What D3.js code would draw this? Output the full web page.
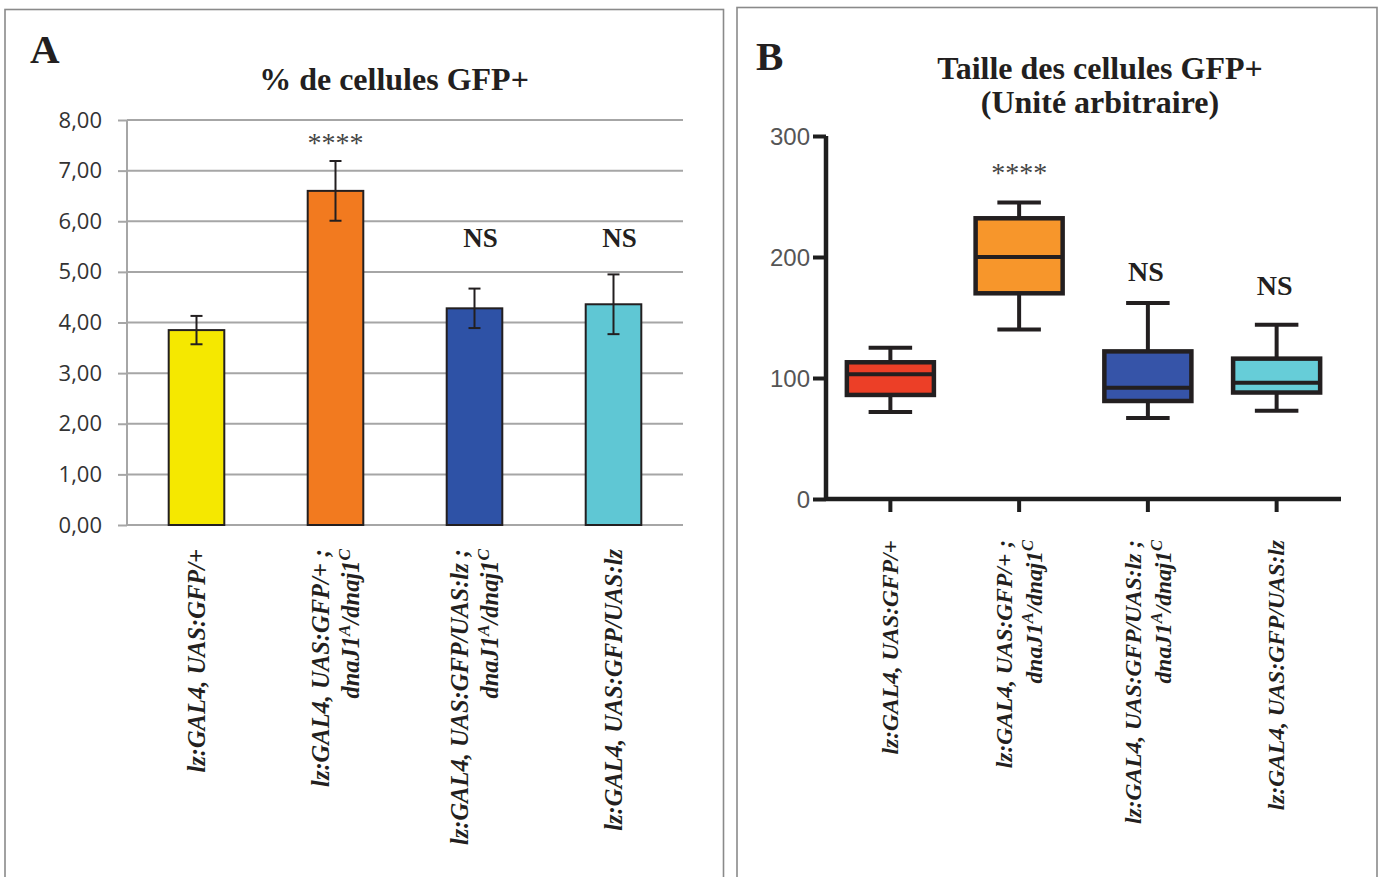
<!DOCTYPE html>
<html>
<head>
<meta charset="utf-8">
<script src="https://cdn.jsdelivr.net/npm/d3@7"></script>
<style>
  html, body { margin: 0; padding: 0; background: #fff; }
  svg { display: block; }
</style>
</head>
<body>
<svg id="fig" width="1384" height="877"></svg>
<script>
// Genotype labels; ^{X} marks a superscript allele
const genotypeLines = [
  ["lz:GAL4, UAS:GFP/+"],
  ["lz:GAL4, UAS:GFP/+ ;", "dnaJ1^{A}/dnaj1^{C}"],
  ["lz:GAL4, UAS:GFP/UAS:lz ;", "dnaJ1^{A}/dnaj1^{C}"],
  ["lz:GAL4, UAS:GFP/UAS:lz"]
];

// Panel A: % of GFP+ cells (mean, error)
const pctMean = [3.85, 6.60, 4.28, 4.36];
const pctErr = [0.28, 0.59, 0.39, 0.59];
const pctTicks = [0, 1, 2, 3, 4, 5, 6, 7, 8];
const pctColors = ["#f5e800", "#f27a1f", "#2e52a6", "#5fc7d4"];
const pctSignif = ["", "****", "NS", "NS"];

// Panel B: GFP+ cell size (arbitrary units), box-and-whisker summary
const sizeMin = [72, 140, 67, 73];
const sizeQ1 = [86, 170, 81, 88];
const sizeMedian = [103, 200, 92, 96];
const sizeQ3 = [113, 232, 122, 116];
const sizeMax = [125, 245, 162, 144];
const sizeTicks = [0, 100, 200, 300];
const sizeColors = ["#ec3f27", "#f7962b", "#3654a8", "#66cdd8"];
const sizeSignif = ["", "****", "NS", "NS"];

const svg = d3.select("#fig");
const serif = "'Liberation Serif', 'Times New Roman', serif";
const ink = "#231f20";

// Panel frames
svg.append("rect").attr("x", 5).attr("y", 9.5).attr("width", 718.5).attr("height", 900)
  .attr("fill", "none").attr("stroke", "#8a8a8a").attr("stroke-width", 1.6);
svg.append("rect").attr("x", 737).attr("y", 7.5).attr("width", 640).attr("height", 900)
  .attr("fill", "none").attr("stroke", "#8a8a8a").attr("stroke-width", 1.6);

// Writes a label line, turning ^{X} into superscript tspans
function writeLine(textSel, line, size) {
  const parts = line.split(/(\^\{[^}]*\})/).filter(s => s.length);
  parts.forEach(p => {
    if (p.startsWith("^{")) {
      textSel.append("tspan").text(p.slice(2, -1))
        .attr("baseline-shift", "super").attr("font-size", size * 0.7);
    } else {
      textSel.append("tspan").text(p);
    }
  });
}

function drawGenotypes(g, xScale, topY, size, gap) {
  genotypeLines.forEach((lines, i) => {
    const cx = xScale(i) + xScale.bandwidth() / 2;
    const lg = g.append("g").attr("transform", `translate(${cx},${topY}) rotate(-90)`);
    const n = lines.length;
    lines.forEach((line, j) => {
      const off = (j - (n - 1) / 2) * gap + size * 0.33;
      const t = lg.append("text").attr("x", 0).attr("y", off)
        .attr("text-anchor", "end")
        .attr("font-family", serif).attr("font-style", "italic").attr("font-weight", "bold")
        .attr("font-size", size).attr("fill", ink);
      writeLine(t, line, size);
    });
  });
}

// ---------- Panel A: bar chart ----------
{
  const g = svg.append("g");
  const x = d3.scaleBand().domain(d3.range(pctMean.length)).range([127, 683]).paddingInner(0.6).paddingOuter(0.3);
  const y = d3.scaleLinear().domain([0, 8]).range([525, 120]);

  g.append("text").attr("x", 30).attr("y", 63).text("A")
    .attr("font-family", serif).attr("font-weight", "bold").attr("font-size", 41).attr("fill", ink);
  g.append("text").attr("x", 394).attr("y", 90).attr("text-anchor", "middle").text("% de cellules GFP+")
    .attr("font-family", serif).attr("font-weight", "bold").attr("font-size", 32).attr("fill", ink);

  // gridlines with outward tick stubs
  const yAxis = d3.axisLeft(y).tickValues(pctTicks).tickSize(9).tickPadding(16)
    .tickFormat(d => d3.format(".2f")(d).replace(".", ","));
  const ax = g.append("g").attr("transform", "translate(127,0)").call(yAxis);
  ax.select(".domain").remove();
  ax.selectAll(".tick line").attr("stroke", "#a6a6a6").attr("stroke-width", 2);
  ax.selectAll(".tick text").attr("font-family", "'Open Sans', sans-serif").attr("font-size", 22).attr("fill", "#333");
  g.selectAll(".grid").data(pctTicks).join("line")
    .attr("x1", 127).attr("x2", 683).attr("y1", d => y(d)).attr("y2", d => y(d))
    .attr("stroke", "#a6a6a6").attr("stroke-width", 2);
  g.append("line").attr("x1", 127).attr("x2", 127).attr("y1", y(8)).attr("y2", y(0))
    .attr("stroke", "#a6a6a6").attr("stroke-width", 2);

  g.selectAll(".bar").data(pctMean).join("rect")
    .attr("x", (d, i) => x(i)).attr("width", x.bandwidth())
    .attr("y", d => y(d)).attr("height", d => y(0) - y(d))
    .attr("fill", (d, i) => pctColors[i]).attr("stroke", ink).attr("stroke-width", 2);

  pctMean.forEach((m, i) => {
    const cx = x(i) + x.bandwidth() / 2;
    const e = pctErr[i];
    g.append("line").attr("x1", cx).attr("x2", cx).attr("y1", y(m + e)).attr("y2", y(m - e))
      .attr("stroke", ink).attr("stroke-width", 2);
    [m + e, m - e].forEach(v => g.append("line").attr("x1", cx - 6).attr("x2", cx + 6)
      .attr("y1", y(v)).attr("y2", y(v)).attr("stroke", ink).attr("stroke-width", 2));
    const s = pctSignif[i];
    if (s === "****") {
      g.append("text").attr("x", cx).attr("y", 152).attr("text-anchor", "middle").text(s)
        .attr("font-family", serif).attr("font-size", 28).attr("fill", "#444");
    } else if (s) {
      g.append("text").attr("x", cx + 6).attr("y", 247).attr("text-anchor", "middle").text(s)
        .attr("font-family", serif).attr("font-weight", "bold").attr("font-size", 27).attr("fill", ink);
    }
  });

  drawGenotypes(g, x, 549, 24.5, 30);
}

// ---------- Panel B: box plot ----------
{
  const g = svg.append("g");
  const x = d3.scaleBand().domain(d3.range(sizeMedian.length)).range([826, 1341]).paddingInner(0.324).paddingOuter(0.162);
  const y = d3.scaleLinear().domain([0, 300]).range([499, 136]);

  g.append("text").attr("x", 756).attr("y", 70).text("B")
    .attr("font-family", serif).attr("font-weight", "bold").attr("font-size", 41).attr("fill", ink);
  g.append("text").attr("x", 1100).attr("y", 79).attr("text-anchor", "middle").text("Taille des cellules GFP+")
    .attr("font-family", serif).attr("font-weight", "bold").attr("font-size", 32).attr("fill", ink);
  g.append("text").attr("x", 1100).attr("y", 113).attr("text-anchor", "middle").text("(Unité arbitraire)")
    .attr("font-family", serif).attr("font-weight", "bold").attr("font-size", 32).attr("fill", ink);

  const yAxis = d3.axisLeft(y).tickValues(sizeTicks).tickSize(13).tickPadding(3).tickFormat(d3.format("d"));
  const ay = g.append("g").attr("transform", "translate(826,0)").call(yAxis);
  ay.select(".domain").attr("stroke", "#1e1e1e").attr("stroke-width", 4.5).attr("d", `M0,${y(300)}V${y(0)}`);
  ay.selectAll(".tick line").attr("stroke", "#1e1e1e").attr("stroke-width", 4);
  ay.selectAll(".tick text").attr("font-family", "'Liberation Sans', Arial, sans-serif").attr("font-size", 24)
    .attr("fill", "#555").attr("dy", "0.35em");

  const centers = d3.range(sizeMedian.length).map(i => x(i) + x.bandwidth() / 2);
  g.append("line").attr("x1", 826).attr("x2", 1341).attr("y1", y(0)).attr("y2", y(0))
    .attr("stroke", "#1e1e1e").attr("stroke-width", 4.5);
  centers.forEach(cx => g.append("line").attr("x1", cx).attr("x2", cx).attr("y1", y(0)).attr("y2", y(0) + 13)
    .attr("stroke", "#1e1e1e").attr("stroke-width", 4));

  // significance label baselines above the NS boxes
  const nsBaseline = { 2: 281, 3: 295 };
  const capHalf = x.bandwidth() / 4;
  centers.forEach((cx, i) => {
    const bx = x(i), bw = x.bandwidth();
    // whiskers
    g.append("line").attr("x1", cx).attr("x2", cx).attr("y1", y(sizeMax[i])).attr("y2", y(sizeQ3[i]))
      .attr("stroke", ink).attr("stroke-width", 4);
    g.append("line").attr("x1", cx).attr("x2", cx).attr("y1", y(sizeQ1[i])).attr("y2", y(sizeMin[i]))
      .attr("stroke", ink).attr("stroke-width", 4);
    [sizeMax[i], sizeMin[i]].forEach(v => g.append("line")
      .attr("x1", cx - capHalf).attr("x2", cx + capHalf).attr("y1", y(v)).attr("y2", y(v))
      .attr("stroke", ink).attr("stroke-width", 4));
    // box and median
    g.append("rect").attr("x", bx).attr("width", bw).attr("y", y(sizeQ3[i])).attr("height", y(sizeQ1[i]) - y(sizeQ3[i]))
      .attr("fill", sizeColors[i]).attr("stroke", ink).attr("stroke-width", 4.5);
    g.append("line").attr("x1", bx).attr("x2", bx + bw).attr("y1", y(sizeMedian[i])).attr("y2", y(sizeMedian[i]))
      .attr("stroke", ink).attr("stroke-width", 4);

    const s = sizeSignif[i];
    if (s === "****") {
      g.append("text").attr("x", cx).attr("y", 182).attr("text-anchor", "middle").text(s)
        .attr("font-family", serif).attr("font-size", 28).attr("fill", "#444");
    } else if (s) {
      g.append("text").attr("x", cx - 2).attr("y", nsBaseline[i]).attr("text-anchor", "middle").text(s)
        .attr("font-family", serif).attr("font-weight", "bold").attr("font-size", 28).attr("fill", ink);
    }
  });

  drawGenotypes(g, x, 540, 23.5, 30);
}
</script>
</body>
</html>
